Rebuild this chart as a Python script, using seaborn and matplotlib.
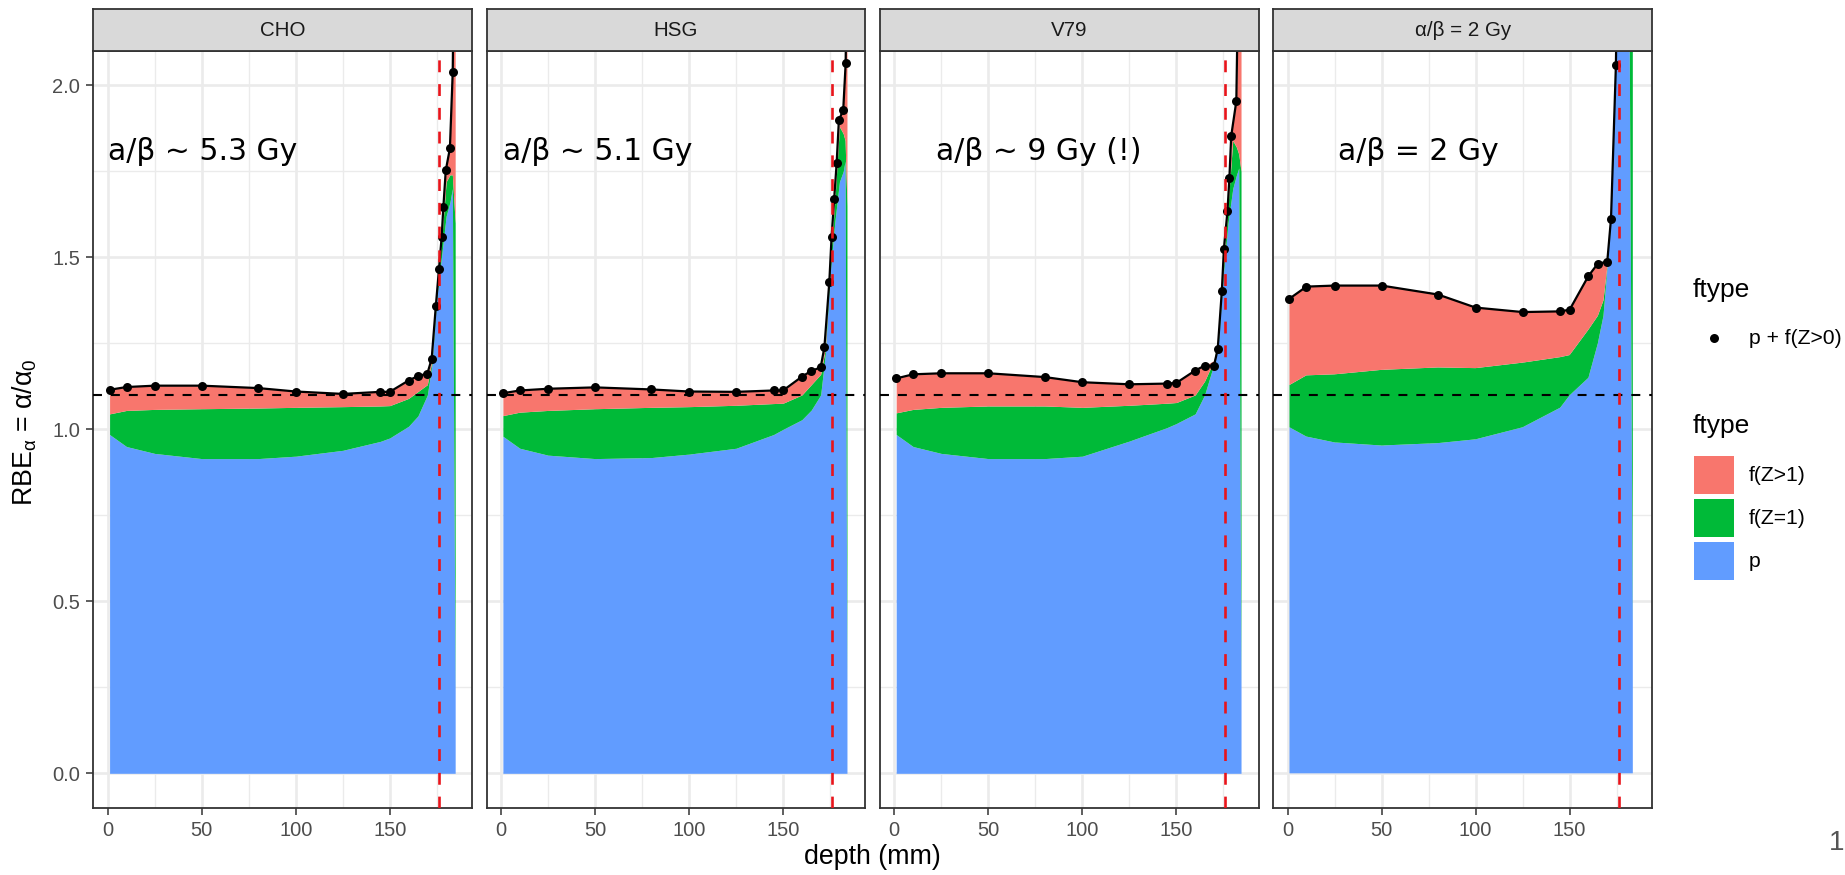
import numpy as np
import matplotlib
matplotlib.use("Agg")
import matplotlib.pyplot as plt
from matplotlib.patches import Rectangle
import seaborn as sns

sns.set_theme(style="white")
plt.rcParams["font.family"] = ["Liberation Sans", "DejaVu Sans"]
plt.rcParams["mathtext.fontset"] = "custom"
plt.rcParams["mathtext.rm"] = "Liberation Sans"
plt.rcParams["mathtext.it"] = "Liberation Sans:italic"
plt.rcParams["mathtext.default"] = "regular"

# ---------------------------------------------------------------- data
panels = ["CHO", "HSG", "V79", "α/β = 2 Gy"]
notes = ["a/β ~ 5.3 Gy", "a/β ~ 5.1 Gy", "a/β ~ 9 Gy (!)", "a/β = 2 Gy"]
note_depth = [0, 1, 22, 27]
note_level = 1.783

bragg_peak_depth = 176
rbe_reference = 1.1

# total RBE (p + f(Z>0)) at the sampled depths
pt_depth_cho = [1, 10, 25, 50, 80, 100, 125, 145, 150, 160, 165, 170, 172.3, 174.5,
                176.2, 177.6, 178.5, 179.8, 182, 183.5, 184.6]
pt_rbe_cho = [1.115, 1.123, 1.127, 1.127, 1.120, 1.110, 1.103, 1.109, 1.109, 1.142,
              1.155, 1.162, 1.205, 1.358, 1.467, 1.559, 1.645, 1.753, 1.817, 2.040, 2.60]

pt_depth_hsg = [1, 10, 25, 50, 80, 100, 125, 145, 150, 160, 165, 170, 172, 174.6,
                175.8, 177.2, 178.5, 179.7, 182, 183.3, 184.4]
pt_rbe_hsg = [1.105, 1.113, 1.118, 1.122, 1.116, 1.110, 1.109, 1.113, 1.113, 1.153,
              1.170, 1.180, 1.239, 1.428, 1.558, 1.671, 1.773, 1.899, 1.928, 2.064, 2.60]

pt_depth_v79 = [1, 10, 25, 50, 80, 100, 125, 145, 150, 160, 165, 170, 172, 174.2,
                175.3, 177.2, 178.2, 179.2, 181.9, 183.4]
pt_rbe_v79 = [1.148, 1.160, 1.163, 1.163, 1.152, 1.137, 1.131, 1.133, 1.135, 1.171,
              1.185, 1.185, 1.233, 1.403, 1.525, 1.635, 1.730, 1.854, 1.954, 2.50]

pt_depth_ab2 = [1, 10, 25, 50, 80, 100, 125, 145, 150, 160, 165, 170, 172, 174.6, 176]
pt_rbe_ab2 = [1.380, 1.415, 1.418, 1.418, 1.392, 1.354, 1.341, 1.343, 1.348, 1.446,
              1.482, 1.487, 1.613, 2.059, 2.60]

# stacked contributions: p, f(Z=1), f(Z>1)
ar_depth_cho = [1, 10, 25, 50, 80, 100, 125, 145, 150, 160, 165, 170, 172.5, 175,
                177.5, 180, 182, 183.3, 184.8]
p_cho = [0.985, 0.950, 0.930, 0.915, 0.915, 0.922, 0.939, 0.965, 0.975, 1.009, 1.039,
         1.100, 1.190, 1.380, 1.500, 1.620, 1.660, 1.700, 0.230]
fz1_cho = [0.060, 0.105, 0.128, 0.145, 0.147, 0.142, 0.127, 0.103, 0.094, 0.081, 0.071,
           0.030, 0.010, 0.020, 0.040, 0.100, 0.080, 0.040, 1.370]
fz2_cho = [0.070, 0.068, 0.069, 0.067, 0.058, 0.046, 0.037, 0.041, 0.040, 0.052, 0.045,
           0.030, 0.005, 0.000, 0.000, 0.040, 0.080, 0.260, 1.400]

ar_depth_hsg = [1, 10, 25, 50, 80, 100, 125, 145, 150, 160, 165, 170, 172.5, 175,
                177.5, 180, 182, 183.0, 184.0]
p_hsg = [0.980, 0.945, 0.925, 0.915, 0.918, 0.928, 0.945, 0.985, 1.000, 1.028, 1.056,
         1.100, 1.220, 1.450, 1.600, 1.720, 1.750, 1.780, 0.250]
fz1_hsg = [0.060, 0.105, 0.130, 0.145, 0.146, 0.138, 0.125, 0.090, 0.076, 0.072, 0.074,
           0.060, 0.015, 0.030, 0.060, 0.160, 0.110, 0.060, 1.400]
fz2_hsg = [0.065, 0.063, 0.063, 0.062, 0.052, 0.044, 0.039, 0.038, 0.037, 0.053, 0.040,
           0.020, 0.015, 0.010, 0.010, 0.020, 0.070, 0.230, 1.550]

ar_depth_v79 = [1, 10, 25, 50, 80, 100, 125, 145, 150, 160, 165, 170, 172.5, 175,
                177.5, 180, 182, 183.2, 184.4]
p_v79 = [0.985, 0.950, 0.930, 0.915, 0.915, 0.922, 0.966, 1.005, 1.017, 1.045, 1.100,
         1.190, 1.260, 1.450, 1.600, 1.700, 1.740, 1.760, 0.250]
fz1_v79 = [0.063, 0.108, 0.134, 0.153, 0.153, 0.142, 0.104, 0.071, 0.061, 0.055, 0.040,
           0.010, 0.010, 0.020, 0.050, 0.140, 0.080, 0.040, 1.500]
fz2_v79 = [0.100, 0.102, 0.099, 0.095, 0.084, 0.073, 0.061, 0.057, 0.057, 0.071, 0.045,
           0.000, 0.005, 0.010, 0.010, 0.060, 0.140, 0.500, 1.450]

ar_depth_ab2 = [1, 10, 25, 50, 80, 100, 125, 145, 150, 160, 165, 168, 170, 172, 174.5,
                178, 181.5, 183.6]
p_ab2 = [1.006, 0.979, 0.962, 0.953, 0.960, 0.971, 1.006, 1.063, 1.099, 1.150, 1.250,
         1.330, 1.460, 1.600, 2.020, 3.000, 2.600, 0.440]
fz1_ab2 = [0.123, 0.178, 0.198, 0.220, 0.220, 0.207, 0.188, 0.147, 0.117, 0.140, 0.080,
           0.045, 0.010, 0.010, 0.020, 0.100, 1.000, 2.460]
fz2_ab2 = [0.251, 0.258, 0.258, 0.245, 0.212, 0.176, 0.147, 0.133, 0.132, 0.156, 0.152,
           0.110, 0.020, 0.003, 0.020, 0.100, 0.100, 0.600]

points = [(pt_depth_cho, pt_rbe_cho), (pt_depth_hsg, pt_rbe_hsg),
          (pt_depth_v79, pt_rbe_v79), (pt_depth_ab2, pt_rbe_ab2)]
areas = [(ar_depth_cho, p_cho, fz1_cho, fz2_cho), (ar_depth_hsg, p_hsg, fz1_hsg, fz2_hsg),
         (ar_depth_v79, p_v79, fz1_v79, fz2_v79), (ar_depth_ab2, p_ab2, fz1_ab2, fz2_ab2)]

fill_labels = ["f(Z>1)", "f(Z=1)", "p"]
fill_colors = {"f(Z>1)": "#F8766D", "f(Z=1)": "#00BA38", "p": "#619CFF"}

# ---------------------------------------------------------------- layout
W, H = 1845, 875
fig = plt.figure(figsize=(W / 100, H / 100), dpi=100)
fig.patch.set_facecolor("white")


def box(left, top, right, bottom):
    return [left / W, 1 - bottom / H, (right - left) / W, (bottom - top) / H]


panel_left = [93.3, 486.6, 879.9, 1273.2]
panel_w = 378.8
plot_top, plot_bottom = 51, 807.7
strip_top = 9

for i, name in enumerate(panels):
    l = panel_left[i]
    ax = fig.add_axes(box(l, plot_top, l + panel_w, plot_bottom))
    ax.set_facecolor("white")
    ax.set_axisbelow(True)

    depth, p, fz1, fz2 = (np.asarray(a, dtype=float) for a in areas[i])
    stack = np.cumsum(np.vstack([p, fz1, fz2]), axis=0)
    ax.fill_between(depth, 0, stack[0], color=fill_colors["p"], lw=0, zorder=1)
    ax.fill_between(depth, stack[0], stack[1], color=fill_colors["f(Z=1)"], lw=0, zorder=1)
    ax.fill_between(depth, stack[1], stack[2], color=fill_colors["f(Z>1)"], lw=0, zorder=1)

    px, py = points[i]
    sns.lineplot(x=px, y=py, ax=ax, color="black", lw=1.6, sort=False,
                 estimator=None, zorder=3)
    sns.scatterplot(x=px, y=py, ax=ax, color="black", s=42, linewidth=0, zorder=4)

    ax.axhline(rbe_reference, color="black", lw=1.5, ls=(0, (4.3, 4.3)), zorder=5)
    ax.axvline(bragg_peak_depth, color="#E8141B", lw=1.9, ls=(0, (4.5, 4.5)), zorder=6)

    ax.text(note_depth[i], note_level, notes[i], family="DejaVu Sans", fontsize=21.5,
            color="black", ha="left", va="baseline", zorder=7)

    ax.set_xlim(-7.66, 193.8)
    ax.set_ylim(-0.1, 2.1)
    ax.set_xticks([0, 50, 100, 150])
    ax.set_xticks([25, 75, 125, 175], minor=True)
    ax.set_yticks([0, 0.5, 1.0, 1.5, 2.0])
    ax.set_yticks([0.25, 0.75, 1.25, 1.75], minor=True)
    ax.set_yticklabels(["0.0", "0.5", "1.0", "1.5", "2.0"])
    ax.grid(which="major", color="#EBEBEB", lw=1.9)
    ax.grid(which="minor", color="#EBEBEB", lw=1.0)
    ax.tick_params(which="major", length=5.3, width=1.1, color="#333333",
                   labelsize=14.5, labelcolor="#4D4D4D", pad=4.3)
    ax.tick_params(which="minor", length=0)
    ax.tick_params(axis="y", left=(i == 0), labelleft=(i == 0))
    ax.tick_params(axis="x", bottom=True)
    ax.set_xlabel("")
    ax.set_ylabel("")
    for sp in ax.spines.values():
        sp.set_color("#333333")
        sp.set_linewidth(1.3)

    st = fig.add_axes(box(l, strip_top, l + panel_w, plot_top))
    st.set_facecolor("#D9D9D9")
    st.set_xticks([])
    st.set_yticks([])
    for sp in st.spines.values():
        sp.set_color("#333333")
        sp.set_linewidth(1.3)
    st.text(0.5, 0.5, name, transform=st.transAxes, ha="center", va="center",
            fontsize=14.8, color="#1A1A1A")

fig.text(25 / W, 1 - 432 / H, r"RBE$_{\alpha}$ = α/α$_{0}$", rotation=90,
         ha="center", va="center", fontsize=19.3, color="black")
fig.text(872 / W, 1 - 857 / H, "depth (mm)", ha="center", va="center",
         fontsize=19.3, color="black")

# ---------------------------------------------------------------- legends
lg = fig.add_axes([0, 0, 1, 1], zorder=10)
lg.set_xlim(0, W)
lg.set_ylim(H, 0)
lg.axis("off")
lg.patch.set_alpha(0)

lg.text(1693, 297, "ftype", fontsize=19, ha="left", va="baseline", color="black")
lg.scatter([1714], [338], s=42, color="black", linewidths=0)
lg.text(1749, 338, "p + f(Z>0)", fontsize=15.2, ha="left", va="center", color="black")

lg.text(1693, 433, "ftype", fontsize=19, ha="left", va="baseline", color="black")
row_top = [455.7, 498.5, 541.7]
for lab, top in zip(fill_labels, row_top):
    lg.add_patch(Rectangle((1694, top), 40, 38.5, facecolor=fill_colors[lab],
                           edgecolor="none"))
    lg.text(1749, top + 19.5, lab, fontsize=15.2, ha="left", va="center", color="black")

lg.text(1829, 843, "1", fontsize=20, ha="left", va="center", color="#555555")

fig.savefig("out.png", dpi=100, facecolor="white")
